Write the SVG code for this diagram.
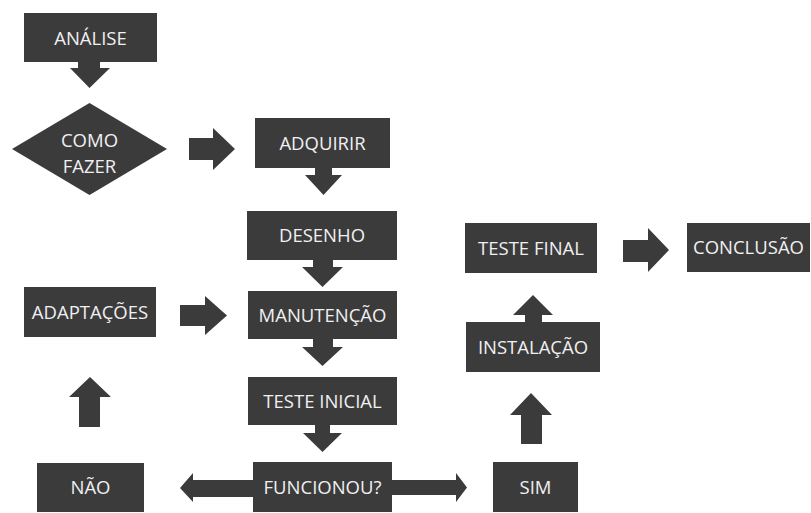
<svg xmlns="http://www.w3.org/2000/svg" width="811" height="513" viewBox="0 0 811 513">
<style>
.box{fill:#3b3b3c}
.lbl{fill:#f0f0f0;font-family:"Open Sans","Liberation Sans",sans-serif;font-size:18.5px;font-weight:500;text-anchor:middle}
.arr{fill:#3b3b3c}
</style>
<rect width="811" height="513" fill="#ffffff"/>
<g id="connectors">
<polygon class="arr" points="78,62 100,62 100,68 110,68 89.5,88 70,68 78,68"/>
<polygon class="arr" points="189,138 213,138 213,128 235,149 213,170 213,160 189,160"/>
<polygon class="arr" points="315,168 332,168 332,175 342,175 323.5,195 305,175 315,175"/>
<polygon class="arr" points="313,260 333,260 333,267 343,267 322.5,287 302,267 313,267"/>
<polygon class="arr" points="180,305 205,305 205,296 227,315.5 205,335 205,326 180,326"/>
<polygon class="arr" points="313,339 333,339 333,347 343,347 322.5,366 302,347 313,347"/>
<polygon class="arr" points="315,425 330,425 330,433 342,433 322.5,452 303,433 315,433"/>
<polygon class="arr" points="253,480 253,497 193,497 193,502 180,488 193,473 193,480"/>
<polygon class="arr" points="392,480 392,495 456,495 456,502 467,487.5 456,473 456,480"/>
<polygon class="arr" points="79,427 100,427 100,397 111,397 90,377 69,397 79,397"/>
<polygon class="arr" points="521,444 542,444 542,415 552,415 531,393 510,415 521,415"/>
<polygon class="arr" points="525,322 542,322 542,315 553,315 533,295 513,315 525,315"/>
<polygon class="arr" points="623,240 648,240 648,228 669,250 648,272 648,262 623,262"/>
</g>
<g id="analise"><rect class="box" x="24" y="13" width="133" height="49"/><text class="lbl" x="90.5" y="44.5">ANÁLISE</text></g>
<g id="como-fazer"><polygon class="box" points="12,149 89.5,103 167,149 89.5,195"/><text class="lbl" x="89.5" y="146.5">COMO</text><text class="lbl" x="89.5" y="172.5">FAZER</text></g>
<g id="adquirir"><rect class="box" x="255" y="118" width="135" height="50"/><text class="lbl" x="322.5" y="149.5">ADQUIRIR</text></g>
<g id="desenho"><rect class="box" x="247" y="211" width="150" height="49"/><text class="lbl" x="322" y="242">DESENHO</text></g>
<g id="manutencao"><rect class="box" x="248" y="291" width="149" height="48"/><text class="lbl" x="322.5" y="321.5">MANUTENÇÃO</text></g>
<g id="adaptacoes"><rect class="box" x="24" y="287" width="132" height="50"/><text class="lbl" x="90" y="318.5">ADAPTAÇÕES</text></g>
<g id="teste-inicial"><rect class="box" x="248" y="377" width="149" height="48"/><text class="lbl" x="322.5" y="407.5">TESTE INICIAL</text></g>
<g id="funcionou"><rect class="box" x="253" y="462" width="139" height="50"/><text class="lbl" x="322.5" y="493.5">FUNCIONOU?</text></g>
<g id="nao"><rect class="box" x="37" y="463" width="107" height="49"/><text class="lbl" x="90.5" y="494">NÃO</text></g>
<g id="sim"><rect class="box" x="493" y="462" width="85" height="50"/><text class="lbl" x="535.5" y="493.5">SIM</text></g>
<g id="instalacao"><rect class="box" x="466" y="322" width="134" height="50"/><text class="lbl" x="533" y="353.5">INSTALAÇÃO</text></g>
<g id="teste-final"><rect class="box" x="465" y="223" width="132" height="50"/><text class="lbl" x="531" y="254.5">TESTE FINAL</text></g>
<g id="conclusao"><rect class="box" x="687" y="223" width="123" height="49"/><text class="lbl" x="748.5" y="254">CONCLUSÃO</text></g>
</svg>
